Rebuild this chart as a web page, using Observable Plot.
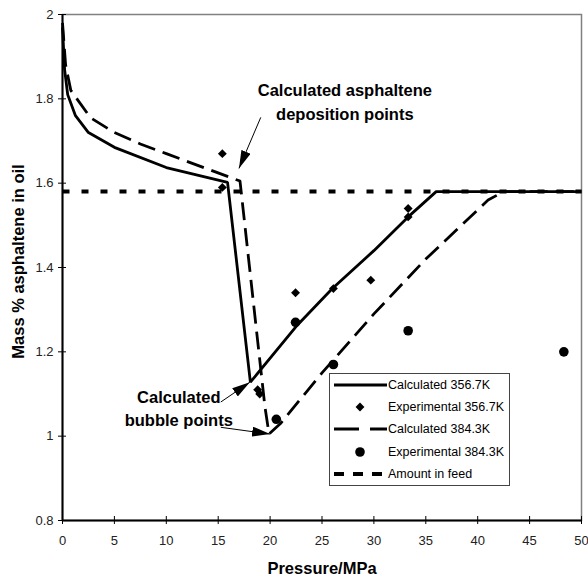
<!DOCTYPE html>
<html><head><meta charset="utf-8">
<script src="https://cdn.jsdelivr.net/npm/d3@7"></script>
<script src="https://cdn.jsdelivr.net/npm/@observablehq/plot@0.6"></script>
<style>
body{margin:0;background:#fff;}
#wrap{position:relative;width:588px;height:581px;font-family:"Liberation Sans",Arial,sans-serif;}
#legend{position:absolute;left:329px;top:373px;width:179px;height:111px;border:1px solid #444;background:#fff;}
.row{height:22.2px;display:flex;align-items:center;font-size:12.5px;white-space:nowrap;color:#000;}
.row svg{flex:none;}
</style></head><body><div id="wrap"></div>
<script>
// ---- data ----
const calc357Pressure = [0, 0.2, 0.5, 1.25, 2.5, 5, 10, 15.9, 18.1, 22.5, 26, 30, 33.3, 36, 50];
const calc357Mass     = [1.97, 1.87, 1.81, 1.76, 1.72, 1.685, 1.637, 1.602, 1.128, 1.26, 1.35, 1.44, 1.52, 1.58, 1.58];
const calc384Pressure = [0, 0.3, 0.8, 2.7, 5, 7.5, 10, 17.1, 19.5, 19.9, 21, 25, 30, 35, 41, 42.5, 50];
const calc384Mass     = [1.98, 1.88, 1.82, 1.755, 1.72, 1.693, 1.67, 1.605, 1.07, 1.005, 1.03, 1.15, 1.29, 1.42, 1.56, 1.58, 1.58];
const exp357Pressure  = [15.4, 15.4, 18.8, 19.0, 22.45, 26.1, 29.7, 33.3, 33.3];
const exp357Mass      = [1.67, 1.59, 1.11, 1.10, 1.34, 1.35, 1.37, 1.54, 1.52];
const exp384Pressure  = [20.6, 22.45, 26.1, 33.3, 48.3];
const exp384Mass      = [1.04, 1.27, 1.17, 1.25, 1.20];
const feedPressure    = [0, 50];
const feedMass        = [1.58, 1.58];

const xTicks = [0, 5, 10, 15, 20, 25, 30, 35, 40, 45, 50];
const yTicks = [0.8, 1, 1.2, 1.4, 1.6, 1.8, 2];
const yTickLabels = ["0.8", "1", "1.2", "1.4", "1.6", "1.8", "2"];
const xTitle = "Pressure/MPa";
const yTitle = "Mass % asphaltene in oil";
const seriesNames = ["Calculated 356.7K", "Experimental 356.7K", "Calculated 384.3K", "Experimental 384.3K", "Amount in feed"];

const noteTexts = ["Calculated asphaltene", "deposition points", "Calculated", "bubble points"];
const noteX     = [27.2, 27.2, 11.2, 11.2];
const noteY     = [1.82, 1.763, 1.092, 1.037];

const arrowFromX = [19.1, 15.25, 15.25];
const arrowFromY = [1.756, 1.081, 1.021];
const arrowToX   = [17.0, 18.05, 20.0];
const arrowToY   = [1.635, 1.128, 1.005];

// ---- tables ----
const zip = (xs, ys) => xs.map((x, i) => ({x, y: ys[i]}));
const calc357 = zip(calc357Pressure, calc357Mass);
const calc384 = zip(calc384Pressure, calc384Mass);
const exp357 = zip(exp357Pressure, exp357Mass);
const exp384 = zip(exp384Pressure, exp384Mass);
const feed = zip(feedPressure, feedMass);
const notes = noteTexts.map((t, i) => ({t, x: noteX[i], y: noteY[i]}));
const arrows = arrowFromX.map((x, i) => ({x1: x, y1: arrowFromY[i], x2: arrowToX[i], y2: arrowToY[i]}));

const FONT = "Liberation Sans, Arial, sans-serif";

const chart = Plot.plot({
  width: 588, height: 581,
  marginLeft: 62, marginRight: 7, marginTop: 14, marginBottom: 61,
  style: {fontFamily: FONT, background: "#fff", color: "#000"},
  x: {domain: [0, 50], label: null},
  y: {domain: [0.8, 2], label: null},
  marks: [
    Plot.frame({stroke: "#808080", strokeWidth: 1.5}),
    Plot.ruleX([0], {stroke: "#000", strokeWidth: 2}),
    Plot.ruleY([0.8], {stroke: "#000", strokeWidth: 2}),
    Plot.axisX({ticks: xTicks, tickSize: 8, dy: -4, tickPadding: 11, fontSize: 13, label: null, stroke: "#000", fill: "#222"}),
    Plot.axisY({ticks: yTicks, tickSize: 8, dx: 4, tickPadding: 5, fontSize: 13, label: null,
                tickFormat: d => yTickLabels[yTicks.indexOf(d)], stroke: "#000", fill: "#222"}),
    Plot.line(feed, {x: "x", y: "y", stroke: "#000", strokeWidth: 4, strokeDasharray: "7,12", strokeLinecap: "butt"}),
    Plot.line(calc357, {x: "x", y: "y", stroke: "#000", strokeWidth: 2.8, strokeLinecap: "butt", strokeLinejoin: "miter"}),
    Plot.line(calc384, {x: "x", y: "y", stroke: "#000", strokeWidth: 2.8, strokeDasharray: "18,8", strokeLinecap: "butt"}),
    Plot.dot(exp357, {x: "x", y: "y", symbol: "diamond2", r: 4, fill: "#000", stroke: null}),
    Plot.dot(exp384, {x: "x", y: "y", symbol: "circle", r: 4.8, fill: "#000", stroke: null}),
    Plot.link(arrows, {x1: "x1", y1: "y1", x2: "x2", y2: "y2", stroke: "#000", strokeWidth: 1}),
    Plot.text(notes, {x: "x", y: "y", text: "t", fontSize: 16.5, fontWeight: "bold", fill: "#000"}),
    Plot.text([xTitle], {text: d => d, frameAnchor: "bottom", textAnchor: "middle", dy: 53, fontSize: 16.5, fontWeight: "bold", fill: "#000"}),
    Plot.text([yTitle], {text: d => d, frameAnchor: "left", textAnchor: "middle", rotate: -90, dx: -44, dy: -6, fontSize: 16.5, fontWeight: "bold", fill: "#000"})
  ]
});

// filled arrowheads on annotation links
const svg = d3.select(chart);
svg.append("defs").append("marker")
  .attr("id", "ahead").attr("viewBox", "0 0 18 10")
  .attr("refX", 18).attr("refY", 5)
  .attr("markerWidth", 18).attr("markerHeight", 10)
  .attr("markerUnits", "userSpaceOnUse").attr("orient", "auto")
  .append("path").attr("d", "M0,0L18,5L0,10Z").attr("fill", "#000");
svg.selectAll('g[aria-label="link"] path').attr("marker-end", "url(#ahead)");

const wrap = document.getElementById("wrap");
wrap.appendChild(chart);

// legend
const legend = d3.select(wrap).append("div").attr("id", "legend");
const swatches = [
  {type: "line", dash: null, w: 3},
  {type: "diamond"},
  {type: "line", dash: "25,11", w: 3},
  {type: "circle"},
  {type: "line", dash: "10,9", w: 4}
];
seriesNames.forEach((name, i) => {
  const row = legend.append("div").attr("class", "row");
  const s = row.append("svg").attr("width", 58).attr("height", 14);
  const sw = swatches[i];
  if (sw.type === "line") {
    s.append("line").attr("x1", 4).attr("x2", 57).attr("y1", 7).attr("y2", 7)
      .attr("stroke", "#000").attr("stroke-width", sw.w).attr("stroke-dasharray", sw.dash);
  } else if (sw.type === "diamond") {
    s.append("path").attr("transform", "translate(30,7)").attr("d", d3.symbol(d3.symbolDiamond2, Math.PI * 16)()).attr("fill", "#000");
  } else {
    s.append("circle").attr("cx", 30).attr("cy", 7).attr("r", 4.8).attr("fill", "#000");
  }
  row.append("span").text(name);
});
</script></body></html>
